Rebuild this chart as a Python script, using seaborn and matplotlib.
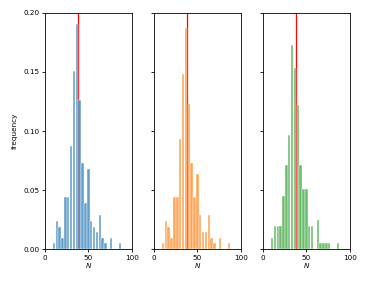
import numpy as np
import pandas as pd
import matplotlib
matplotlib.use("Agg")
import matplotlib.pyplot as plt
import seaborn as sns

# Histogram bins (N values)
bin_start = 8.65
bin_width = 3.3
n_bins = 24

# Relative frequencies per bin for each of the three panels
freq_blue = [0.005, 0.024, 0.019, 0.010, 0.044, 0.044, 0.087, 0.151, 0.190, 0.126,
             0.073, 0.039, 0.068, 0.024, 0.019, 0.015, 0.029, 0.010, 0.005, 0.0,
             0.010, 0.0, 0.0, 0.005]
freq_orange = [0.005, 0.024, 0.019, 0.010, 0.044, 0.044, 0.093, 0.148, 0.187, 0.123,
               0.073, 0.044, 0.064, 0.029, 0.0145, 0.0145, 0.029, 0.010, 0.005, 0.0,
               0.010, 0.0, 0.0, 0.005]
freq_green = [0.010, 0.020, 0.020, 0.020, 0.045, 0.071, 0.097, 0.173, 0.153, 0.122,
              0.071, 0.051, 0.051, 0.020, 0.020, 0.0, 0.025, 0.005, 0.005, 0.005,
              0.005, 0.0, 0.0, 0.005]
true_N = 38
colors = ["#1f77b4", "#ff7f0e", "#2ca02c"]
series = [freq_blue, freq_orange, freq_green]

edges = [float(bin_start + bin_width * i) for i in range(n_bins + 1)]
centers = [(edges[i] + edges[i + 1]) / 2 for i in range(n_bins)]

plt.rcParams.update({
    "font.family": ["DejaVu Sans"],
    "font.size": 5.2,
    "axes.linewidth": 0.6,
    "xtick.major.width": 0.6,
    "ytick.major.width": 0.6,
    "xtick.major.size": 2.2,
    "ytick.major.size": 2.2,
    "xtick.major.pad": 1.5,
    "ytick.major.pad": 1.5,
})

fig, axes = plt.subplots(1, 3, figsize=(3.9, 2.87), dpi=100, sharey=True)
fig.subplots_adjust(left=0.1154, right=0.897, top=0.956, bottom=0.131, wspace=0.257)

for ax, freq, col in zip(axes, series, colors):
    ax.axvline(true_N, color="red", linewidth=0.9, zorder=1)
    df = pd.DataFrame({"N": centers, "w": freq})
    sns.histplot(data=df, x="N", weights="w", bins=edges, stat="count",
                 shrink=0.85, color=col, alpha=0.7, edgecolor="white",
                 linewidth=0.3, ax=ax, zorder=2)
    ax.set_xlim(0, 100)
    ax.set_ylim(0, 0.2)
    ax.set_xticks([0, 50, 100])
    ax.set_xlabel("$N$", fontsize=5.2, labelpad=0.5)
    ax.set_ylabel("")

axes[0].set_yticks([0.0, 0.05, 0.10, 0.15, 0.20])
axes[0].set_yticklabels(["0.00", "0.05", "0.10", "0.15", "0.20"])
axes[0].set_ylabel("frequency", fontsize=5.2, labelpad=4)
for ax in axes[1:]:
    ax.tick_params(labelleft=False)

fig.savefig("out.png", dpi=100)
